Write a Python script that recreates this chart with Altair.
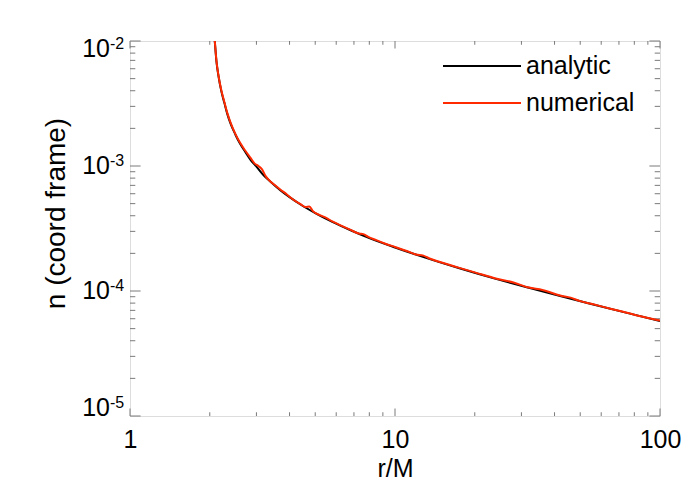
import altair as alt
import pandas as pd

# ---- data ----
r_analytic = [2.07, 2.09, 2.12, 2.16, 2.21, 2.27, 2.33, 2.40, 2.50, 2.60, 2.72, 2.85, 3.0,
              3.2, 3.4, 3.7, 4.0, 4.4, 5.0, 5.8, 6.8, 8.0, 10.0, 13.0, 17.5, 24, 32, 42,
              55, 75, 100]
n_analytic = [1.25e-2, 9.8e-3, 6.83e-3, 5.17e-3, 3.99e-3, 3.20e-3, 2.60e-3, 2.16e-3, 1.78e-3,
              1.51e-3, 1.30e-3, 1.12e-3, 9.9e-4, 8.39e-4, 7.45e-4, 6.37e-4, 5.63e-4, 4.92e-4,
              4.20e-4, 3.57e-4, 3.06e-4, 2.65e-4, 2.23e-4, 1.85e-4, 1.52e-4, 1.25e-4, 1.06e-4,
              9.12e-5, 7.88e-5, 6.68e-5, 5.75e-5]

r_numerical = [2.07, 2.09, 2.12, 2.16, 2.21, 2.27, 2.33, 2.40, 2.50, 2.60, 2.72, 2.85, 2.95,
               3.05, 3.15, 3.25, 3.35, 3.5, 3.7, 3.9, 4.1, 4.4, 4.6, 4.75, 4.9, 5.2, 5.5, 5.8,
               6.2, 6.8, 7.3, 7.6, 7.9, 8.5, 9.2, 10.0, 11, 12, 12.8, 13.5, 15, 17.5, 20, 24,
               28, 32, 36, 42, 46, 50, 55, 65, 75, 87, 100]
n_numerical = [1.25e-2, 9.9e-3, 6.9e-3, 5.2e-3, 4.05e-3, 3.25e-3, 2.65e-3, 2.2e-3, 1.8e-3,
               1.54e-3, 1.33e-3, 1.16e-3, 1.05e-3, 1.0e-3, 9.4e-4, 8.3e-4, 7.7e-4, 7.1e-4,
               6.45e-4, 5.95e-4, 5.45e-4, 4.95e-4, 4.7e-4, 4.75e-4, 4.35e-4, 4.05e-4, 3.85e-4,
               3.6e-4, 3.37e-4, 3.08e-4, 2.88e-4, 2.85e-4, 2.72e-4, 2.55e-4, 2.39e-4, 2.25e-4,
               2.1e-4, 1.96e-4, 1.92e-4, 1.82e-4, 1.69e-4, 1.53e-4, 1.41e-4, 1.26e-4, 1.17e-4,
               1.065e-4, 1.02e-4, 9.2e-5, 8.85e-5, 8.3e-5, 7.9e-5, 7.22e-5, 6.7e-5, 6.2e-5, 5.8e-5]

x_major = [1, 10, 100]
x_minor = [2, 3, 4, 5, 6, 7, 8, 9, 20, 30, 40, 50, 60, 70, 80, 90]
y_major = [1e-2, 1e-3, 1e-4, 1e-5]
y_exponent = ["-2", "-3", "-4", "-5"]
y_minor = [k * 10.0 ** e for e in (-5, -4, -3) for k in range(2, 10)]
legend_labels = ["analytic", "numerical"]

# ---- styling ----
FONT = "Liberation Sans"
W, H = 530, 375
GRAY = "#7a7a7a"
RED = "#ff2a00"
XMAJ, XMIN = 7.5, 3.75
YMAJ, YMIN = 10.6, 5.3

x_scale = alt.Scale(type="log", domain=[1, 100], nice=False)
y_scale = alt.Scale(type="log", domain=[1e-5, 1e-2], nice=False)

x_axis = alt.Axis(values=x_major, labelExpr="format(datum.value, 'd')", title="r/M",
                  ticks=False, domain=False, grid=False, labelFontSize=25, titleFontSize=25,
                  labelFont=FONT, titleFont=FONT, titleFontWeight="normal", labelPadding=11,
                  titlePadding=4, labelColor="black", titleColor="black", labelFlush=False,
                  labelOverlap=False)
y_axis = alt.Axis(labels=False, ticks=False, domain=False, grid=False,
                  title="n (coord frame)", titleFontSize=28, titleFont=FONT,
                  titleFontWeight="normal", titlePadding=60, titleColor="black", titleY=172)

df_a = pd.DataFrame({"r": r_analytic, "n": n_analytic})
df_n = pd.DataFrame({"r": r_numerical, "n": n_numerical})

X = alt.X("r:Q", scale=x_scale, axis=x_axis)
Y = alt.Y("n:Q", scale=y_scale, axis=y_axis)

line_a = alt.Chart(df_a).mark_line(color="black", strokeWidth=2, clip=True,
                                   interpolate="monotone").encode(x=X, y=Y)
line_n = alt.Chart(df_n).mark_line(color=RED, strokeWidth=2, clip=True,
                                   interpolate="monotone").encode(x=X, y=Y)

df_xmaj = pd.DataFrame({"r": x_major})
df_xmin = pd.DataFrame({"r": x_minor})
df_ymaj = pd.DataFrame({"n": y_major, "exp": y_exponent})
df_ymin = pd.DataFrame({"n": y_minor})


def xticks(df, ln):
    b = alt.Chart(df).mark_rule(color=GRAY, strokeWidth=1).encode(
        x=X, y=alt.value(H), y2=alt.value(H - ln))
    t = alt.Chart(df).mark_rule(color=GRAY, strokeWidth=1).encode(
        x=X, y=alt.value(0), y2=alt.value(ln))
    return [b, t]


def yticks(df, ln):
    l = alt.Chart(df).mark_rule(color=GRAY, strokeWidth=1).encode(
        y=Y, x=alt.value(0), x2=alt.value(ln))
    r = alt.Chart(df).mark_rule(color=GRAY, strokeWidth=1).encode(
        y=Y, x=alt.value(W), x2=alt.value(W - ln))
    return [l, r]


def ylabel(filt, dy):
    base = alt.Chart(df_ymaj).transform_filter(filt)
    ten = base.mark_text(text="10", align="right", baseline="middle", fontSize=25,
                         font=FONT, color="black", dy=dy).encode(y=Y, x=alt.value(-20))
    sup = base.mark_text(align="left", baseline="middle", fontSize=16, font=FONT,
                         color="black", dy=dy - 5).encode(y=Y, x=alt.value(-20), text="exp:N")
    return [ten, sup]


labels = (ylabel("datum.n > 0.005", 8) + ylabel("datum.n < 0.005 && datum.n > 0.00005", 0)
          + ylabel("datum.n < 0.00005", -8))

df_leg = pd.DataFrame({"label": legend_labels})
leg = []
for i, (lab, col) in enumerate(zip(legend_labels, ["black", RED])):
    d = df_leg[df_leg.label == lab]
    yy = 25 + 37 * i
    leg.append(alt.Chart(d).mark_rule(color=col, strokeWidth=2).encode(
        x=alt.value(313), x2=alt.value(391), y=alt.value(yy)))
    leg.append(alt.Chart(d).mark_text(align="left", baseline="middle", fontSize=25,
                                      font=FONT, color="black").encode(
        x=alt.value(396), y=alt.value(yy), text="label:N"))

chart = alt.layer(
    *xticks(df_xmaj, XMAJ), *xticks(df_xmin, XMIN),
    *yticks(df_ymaj, YMAJ), *yticks(df_ymin, YMIN),
    line_a, line_n, *labels, *leg
).properties(
    width=W, height=H,
    autosize=alt.AutoSizeParams(type="none"),
    padding={"left": 122, "top": 33, "right": 30, "bottom": 70},
).configure_view(stroke=GRAY, strokeWidth=1).configure(background="white")

chart.save("out.html", embed_options={"renderer": "svg", "actions": False})
